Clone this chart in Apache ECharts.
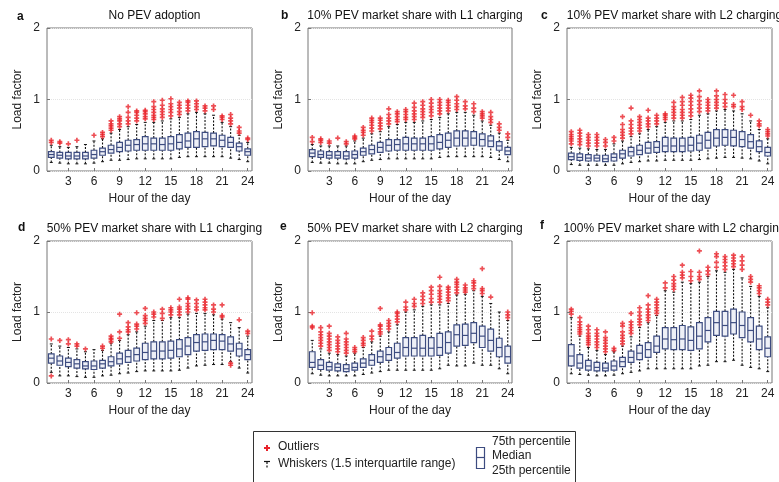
<!DOCTYPE html>
<html>
<head>
<meta charset="utf-8">
<script src="https://cdn.jsdelivr.net/npm/echarts@6/dist/echarts.min.js"></script>
<style>
  html, body { margin: 0; padding: 0; background: #fff; }
  #chart { width: 779px; height: 482px; }
</style>
</head>
<body>
<div id="chart"></div>
<script>
const hours = ['1','2','3','4','5','6','7','8','9','10','11','12','13','14','15','16','17','18','19','20','21','22','23','24'];

// a: No PEV adoption
const aLow  = [0.12,0.11,0.10,0.10,0.10,0.11,0.13,0.15,0.15,0.16,0.17,0.17,0.17,0.17,0.17,0.19,0.20,0.20,0.20,0.20,0.20,0.18,0.16,0.13];
const aQ1   = [0.19,0.18,0.17,0.17,0.17,0.18,0.22,0.25,0.27,0.28,0.29,0.29,0.29,0.29,0.29,0.31,0.33,0.33,0.34,0.35,0.34,0.33,0.28,0.22];
const aMed  = [0.23,0.22,0.21,0.21,0.21,0.23,0.27,0.30,0.33,0.36,0.37,0.38,0.38,0.37,0.38,0.40,0.42,0.45,0.45,0.45,0.43,0.40,0.34,0.27];
const aQ3   = [0.27,0.26,0.26,0.26,0.26,0.29,0.32,0.36,0.40,0.43,0.44,0.48,0.46,0.46,0.48,0.51,0.53,0.55,0.54,0.53,0.50,0.47,0.39,0.31];
const aHigh = [0.36,0.34,0.33,0.34,0.37,0.42,0.45,0.53,0.58,0.62,0.65,0.68,0.68,0.70,0.73,0.75,0.80,0.82,0.80,0.78,0.68,0.62,0.50,0.40];
const aOut  = [[0.40,0.43],[0.39,0.41],[0.38],[0.43],[],[0.50],[0.48,0.51,0.54],[0.57,0.60,0.63,0.66,0.70],[0.62,0.66,0.70,0.73,0.76],[0.66,0.70,0.75,0.82,0.90],[0.70,0.74,0.78,0.82,0.84],[0.73,0.76,0.80,0.83,0.85],[0.72,0.75,0.78,0.82,0.86,0.90,0.97],[0.75,0.79,0.83,0.87,0.92,0.99],[0.77,0.82,0.86,0.90,0.94,1.01],[0.79,0.83,0.88,0.92,0.96],[0.84,0.88,0.92,0.96,0.98],[0.86,0.90,0.94,0.98],[0.84,0.88,0.91],[0.86,0.91],[0.72,0.75,0.77],[0.66,0.70,0.74,0.79],[0.53,0.56,0.61],[0.44,0.46]];

// b: 10% PEV, L1
const bLow  = [0.12,0.11,0.11,0.10,0.10,0.10,0.13,0.15,0.16,0.17,0.17,0.17,0.17,0.17,0.17,0.19,0.20,0.20,0.20,0.20,0.20,0.19,0.16,0.13];
const bQ1   = [0.20,0.19,0.18,0.18,0.17,0.18,0.22,0.24,0.26,0.28,0.29,0.29,0.29,0.29,0.29,0.31,0.33,0.35,0.35,0.36,0.35,0.34,0.29,0.23];
const bMed  = [0.25,0.23,0.22,0.22,0.21,0.23,0.27,0.30,0.33,0.36,0.37,0.38,0.38,0.38,0.38,0.40,0.43,0.46,0.46,0.46,0.44,0.42,0.35,0.28];
const bQ3   = [0.30,0.28,0.27,0.27,0.27,0.28,0.32,0.36,0.40,0.44,0.44,0.47,0.46,0.46,0.48,0.51,0.53,0.56,0.56,0.55,0.52,0.49,0.41,0.33];
const bHigh = [0.37,0.35,0.35,0.35,0.35,0.42,0.46,0.52,0.55,0.62,0.65,0.68,0.68,0.70,0.72,0.75,0.80,0.82,0.82,0.78,0.70,0.64,0.53,0.43];
const bOut  = [[0.41,0.47],[0.40,0.43,0.45],[0.39,0.42],[0.46],[0.38,0.41],[0.45,0.47,0.49],[0.50,0.54,0.57,0.61],[0.56,0.60,0.64,0.68,0.71,0.74],[0.59,0.63,0.67,0.71,0.74],[0.66,0.70,0.74,0.79,0.87],[0.69,0.72,0.76,0.80,0.83],[0.72,0.75,0.79,0.83,0.86],[0.72,0.76,0.80,0.84,0.89,0.95],[0.75,0.79,0.83,0.87,0.92,0.97],[0.77,0.82,0.86,0.90,0.95,1.00],[0.80,0.84,0.88,0.92,0.96,1.00],[0.84,0.88,0.92,0.96,0.99],[0.86,0.90,0.94,0.99,1.04],[0.87,0.91,0.97],[0.83,0.88,0.94],[0.74,0.77,0.80,0.83],[0.68,0.72,0.76,0.82],[0.57,0.61,0.66],[0.47,0.52]];

// c: 10% PEV, L2
const cLow  = [0.09,0.08,0.08,0.08,0.08,0.08,0.10,0.12,0.13,0.14,0.14,0.15,0.15,0.15,0.15,0.16,0.17,0.18,0.19,0.19,0.18,0.17,0.14,0.10];
const cQ1   = [0.16,0.15,0.14,0.14,0.13,0.14,0.18,0.21,0.23,0.25,0.26,0.27,0.27,0.27,0.28,0.29,0.32,0.35,0.36,0.35,0.34,0.32,0.27,0.21];
const cMed  = [0.20,0.19,0.18,0.18,0.17,0.19,0.24,0.27,0.29,0.32,0.33,0.35,0.35,0.35,0.36,0.39,0.43,0.46,0.47,0.47,0.44,0.41,0.34,0.26];
const cQ3   = [0.25,0.24,0.23,0.22,0.22,0.24,0.29,0.33,0.36,0.40,0.41,0.47,0.46,0.46,0.47,0.50,0.54,0.58,0.58,0.57,0.55,0.51,0.42,0.33];
const cHigh = [0.33,0.32,0.31,0.30,0.30,0.38,0.42,0.48,0.52,0.58,0.62,0.68,0.70,0.70,0.72,0.78,0.80,0.84,0.86,0.84,0.80,0.70,0.58,0.45];
const cOut  = [[0.38,0.42,0.45,0.48,0.51,0.55],[0.37,0.41,0.45,0.49,0.53,0.57],[0.35,0.39,0.43,0.47,0.51],[0.35,0.39,0.43,0.47,0.51],[0.35,0.40,0.44],[0.42,0.47],[0.46,0.50,0.54,0.58,0.65,0.76],[0.52,0.56,0.60,0.65,0.70,0.88],[0.56,0.60,0.64,0.68,0.72,0.76],[0.62,0.66,0.70,0.74,0.85],[0.66,0.70,0.74,0.78],[0.72,0.75,0.78,0.80],[0.74,0.78,0.82,0.86,0.90,0.96],[0.74,0.78,0.82,0.86,0.92,0.97,1.03],[0.77,0.82,0.87,0.92,0.97,1.02,1.06],[0.83,0.88,0.93,0.98,1.04,1.12],[0.84,0.88,0.92,0.96,1.00],[0.88,0.92,0.96,1.00,1.05,1.12],[0.90,0.95,1.00,1.07],[0.90,0.93,1.06],[0.86,0.90,0.97],[0.78],[0.63,0.66,0.70],[0.49,0.52,0.55,0.58]];

// d: 50% PEV, L1
const dLow  = [0.15,0.10,0.10,0.09,0.08,0.08,0.10,0.11,0.13,0.14,0.16,0.17,0.17,0.17,0.17,0.18,0.21,0.24,0.25,0.26,0.26,0.30,0.21,0.14];
const dQ1   = [0.28,0.25,0.23,0.21,0.20,0.19,0.21,0.24,0.27,0.29,0.31,0.33,0.34,0.34,0.35,0.37,0.40,0.45,0.46,0.47,0.47,0.45,0.38,0.33];
const dMed  = [0.35,0.31,0.29,0.27,0.24,0.24,0.27,0.30,0.34,0.37,0.40,0.43,0.45,0.45,0.46,0.48,0.52,0.57,0.58,0.60,0.59,0.55,0.48,0.40];
const dQ3   = [0.41,0.38,0.35,0.33,0.30,0.31,0.32,0.37,0.42,0.46,0.49,0.56,0.58,0.58,0.59,0.61,0.64,0.68,0.69,0.69,0.68,0.65,0.56,0.47];
const dHigh = [0.55,0.52,0.50,0.48,0.44,0.47,0.46,0.56,0.60,0.68,0.72,0.80,0.88,0.88,0.92,0.92,0.97,0.98,0.98,0.96,0.90,0.85,0.78,0.66];
const dOut  = [[0.10,0.62],[0.60],[0.55,0.61],[0.52,0.55],[0.48],[],[0.49,0.52],[0.58,0.61,0.63,0.66],[0.63,0.72,0.97],[0.72,0.75,0.79,0.85],[0.76,0.80,0.83,0.99],[0.84,0.88,0.91,0.95,1.05],[0.93,0.97,1.00],[0.91,0.98,1.04],[0.96,1.00,1.03,1.06],[0.96,1.00,1.04,1.07,1.18],[1.00,1.04,1.08,1.12,1.18,1.20],[1.03,1.07,1.12,1.17],[1.03,1.06,1.10,1.14,1.18],[1.00,1.04,1.10],[0.93,0.95,1.10],[0.25,0.28],[0.89],[0.70,0.73]];

// e: 50% PEV, L2
const eLow  = [0.13,0.11,0.10,0.10,0.10,0.10,0.12,0.14,0.16,0.18,0.18,0.18,0.18,0.18,0.18,0.20,0.25,0.24,0.24,0.28,0.25,0.25,0.20,0.13];
const eQ1   = [0.22,0.19,0.18,0.17,0.16,0.18,0.22,0.25,0.29,0.32,0.35,0.38,0.38,0.38,0.38,0.39,0.42,0.52,0.53,0.57,0.50,0.45,0.37,0.28];
const eMed  = [0.29,0.25,0.23,0.22,0.20,0.22,0.28,0.32,0.37,0.40,0.43,0.50,0.49,0.49,0.49,0.50,0.57,0.68,0.67,0.70,0.66,0.60,0.50,0.37];
const eQ3   = [0.44,0.33,0.29,0.27,0.26,0.28,0.34,0.40,0.45,0.50,0.56,0.64,0.64,0.67,0.64,0.70,0.72,0.82,0.83,0.85,0.80,0.76,0.63,0.52];
const eHigh = [0.60,0.48,0.42,0.40,0.38,0.42,0.50,0.58,0.66,0.72,0.82,1.00,1.03,1.08,1.10,1.10,1.12,1.24,1.25,1.30,1.22,1.12,1.00,0.88];
const eOut  = [[0.78,0.80,0.99],[0.52,0.56,0.60,0.64,0.68,0.72,0.78],[0.46,0.50,0.54,0.58,0.62,0.66,0.70,0.80],[0.44,0.48,0.52,0.56,0.60,0.65],[0.42,0.46,0.50,0.54,0.58,0.62,0.70],[0.44,0.47,0.50],[0.53,0.56,0.60,0.64],[0.62,0.66,0.73],[0.69,0.72,0.76,0.80,0.82,1.05],[0.76,0.80,0.84,0.88],[0.86,0.90,0.94,0.98,1.00],[1.03,1.07,1.14],[1.08,1.12,1.18],[1.12,1.17,1.22,1.27],[1.14,1.19,1.25,1.30,1.35],[1.14,1.18,1.22,1.26,1.30,1.36,1.49],[1.16,1.20,1.24,1.28,1.32,1.35],[1.27,1.31,1.35,1.39,1.42,1.46],[1.28,1.31,1.34,1.38],[1.33,1.37,1.41,1.44],[1.26,1.30,1.33,1.61],[1.21],[],[0.92,0.96,1.00]];

// f: 100% PEV, L2
const fLow  = [0.13,0.12,0.11,0.10,0.10,0.11,0.13,0.15,0.17,0.20,0.20,0.20,0.20,0.20,0.20,0.24,0.25,0.30,0.30,0.32,0.25,0.22,0.20,0.16];
const fQ1   = [0.24,0.21,0.18,0.17,0.17,0.18,0.23,0.29,0.33,0.36,0.43,0.48,0.47,0.47,0.46,0.48,0.58,0.67,0.66,0.69,0.64,0.58,0.47,0.37];
const fMed  = [0.38,0.28,0.24,0.22,0.21,0.24,0.30,0.36,0.42,0.47,0.52,0.62,0.61,0.62,0.60,0.66,0.74,0.85,0.81,0.85,0.81,0.74,0.62,0.49];
const fQ3   = [0.54,0.40,0.32,0.29,0.28,0.31,0.36,0.45,0.53,0.57,0.66,0.78,0.78,0.81,0.79,0.85,0.92,1.01,1.01,1.04,1.00,0.92,0.80,0.65];
const fHigh = [0.92,0.66,0.50,0.46,0.40,0.44,0.52,0.65,0.78,0.85,0.95,1.30,1.28,1.42,1.40,1.42,1.50,1.58,1.56,1.60,1.48,1.36,1.22,1.06];
const fOut  = [[0.97,1.01,1.04],[0.69,0.72,0.75,0.78,0.82,0.86,0.92],[0.54,0.57,0.60,0.63,0.66,0.70,0.75,0.80],[0.50,0.54,0.58,0.62,0.66,0.70,0.75],[0.44,0.48,0.52,0.56,0.60,0.64,0.72],[0.46,0.49],[0.55,0.59,0.63,0.67,0.72,0.80,0.84],[0.70,0.74,0.78,0.82,0.86,0.98],[0.82,0.86,0.90,0.95,1.00,1.06],[0.88,0.92,0.96,1.00,1.04,1.10,1.23],[0.98,1.02,1.06,1.10,1.14,1.18],[1.34,1.41],[1.32,1.36,1.40,1.45,1.50],[1.48,1.52,1.56,1.66],[1.44,1.50,1.57],[1.46,1.50,1.56,1.86],[1.53,1.58,1.63],[1.63,1.70,1.78,1.82],[1.60,1.65,1.70,1.74,1.78],[1.64,1.68,1.72,1.76,1.80],[1.60,1.66,1.72,1.78],[1.42,1.46,1.50],[1.26,1.30,1.34,1.37],[1.10,1.14,1.18]];

const panels = [
  { letter: 'a', title: 'No PEV adoption', low: aLow, q1: aQ1, med: aMed, q3: aQ3, high: aHigh, out: aOut },
  { letter: 'b', title: '10% PEV market share with L1 charging', low: bLow, q1: bQ1, med: bMed, q3: bQ3, high: bHigh, out: bOut },
  { letter: 'c', title: '10% PEV market share with L2 charging', low: cLow, q1: cQ1, med: cMed, q3: cQ3, high: cHigh, out: cOut },
  { letter: 'd', title: '50% PEV market share with L1 charging', low: dLow, q1: dQ1, med: dMed, q3: dQ3, high: dHigh, out: dOut },
  { letter: 'e', title: '50% PEV market share with L2 charging', low: eLow, q1: eQ1, med: eMed, q3: eQ3, high: eHigh, out: eOut },
  { letter: 'f', title: '100% PEV market share with L2 charging', low: fLow, q1: fQ1, med: fMed, q3: fQ3, high: fHigh, out: fOut }
];

const FONT = 'Liberation Sans, Arial, Helvetica, sans-serif';
const BOX = '#3d4c80';
const RED = '#e8232b';
// thick plus sign for outliers
const plusPath = 'path://M2,0H4V2H6V4H4V6H2V4H0V2H2Z';

const gridPos = [
  { left: 47, top: 28, width: 205, height: 143 },
  { left: 308, top: 28, width: 204, height: 143 },
  { left: 567, top: 28, width: 205, height: 143 },
  { left: 47, top: 241, width: 205, height: 142 },
  { left: 308, top: 241, width: 204, height: 142 },
  { left: 567, top: 241, width: 205, height: 142 }
];
const letterPos = [[12, 6], [276, 5], [536, 5], [13, 217], [275, 216], [535, 215]];

function renderBox(params, api) {
  const i = api.value(0);
  const x = api.coord([i, 0])[0];
  const w = api.size([1, 0])[0] * 0.66;
  const yLow = api.coord([i, api.value(1)])[1];
  const yQ1 = api.coord([i, api.value(2)])[1];
  const yMed = api.coord([i, api.value(3)])[1];
  const yQ3 = api.coord([i, api.value(4)])[1];
  const yHigh = api.coord([i, api.value(5)])[1];
  const dash = { stroke: '#111', lineWidth: 1.1, lineDash: [2, 1.5] };
  const cap = { stroke: '#111', lineWidth: 1 };
  return {
    type: 'group',
    children: [
      { type: 'line', shape: { x1: x, y1: yQ3, x2: x, y2: yHigh }, style: dash },
      { type: 'line', shape: { x1: x, y1: yLow, x2: x, y2: yQ1 }, style: dash },
      { type: 'line', shape: { x1: x - 1.5, y1: yHigh, x2: x + 1.5, y2: yHigh }, style: cap },
      { type: 'line', shape: { x1: x - 1.5, y1: yLow, x2: x + 1.5, y2: yLow }, style: cap },
      { type: 'rect', shape: { x: x - w / 2, y: yQ3, width: w, height: yQ1 - yQ3 },
        style: { fill: '#eef0f7', stroke: BOX, lineWidth: 1.2 } },
      { type: 'line', shape: { x1: x - w / 2, y1: yMed, x2: x + w / 2, y2: yMed },
        style: { stroke: BOX, lineWidth: 1.2 } }
    ]
  };
}

const grid = [], xAxis = [], yAxis = [], series = [], title = [];
panels.forEach((p, k) => {
  const g = gridPos[k];
  grid.push(Object.assign({ show: true, borderColor: '#777', borderWidth: 1, backgroundColor: 'transparent' }, g));
  xAxis.push({
    type: 'category', gridIndex: k, data: hours,
    name: 'Hour of the day', nameLocation: 'middle', nameGap: 22,
    nameTextStyle: { fontSize: 12, color: '#222', fontFamily: FONT },
    axisLine: { show: false },
    axisTick: { show: true, inside: true, length: 3, alignWithLabel: true,
      interval: (i) => (i + 1) % 3 === 0, lineStyle: { color: '#777' } },
    axisLabel: { interval: (i) => (i + 1) % 3 === 0, fontSize: 12, color: '#222', margin: 5, fontFamily: FONT },
    splitLine: { show: false }
  });
  yAxis.push({
    type: 'value', gridIndex: k, min: 0, max: 2, interval: 1,
    name: 'Load factor', nameLocation: 'middle', nameGap: 23,
    nameTextStyle: { fontSize: 12, color: '#222', fontFamily: FONT },
    axisLine: { show: false },
    axisTick: { show: true, inside: true, length: 3, lineStyle: { color: '#777' } },
    axisLabel: { fontSize: 12, color: '#222', margin: 7, fontFamily: FONT },
    splitLine: { show: true, lineStyle: { color: '#e4e4e4', type: 'dotted' } }
  });
  series.push({
    type: 'custom', xAxisIndex: k, yAxisIndex: k,
    renderItem: renderBox,
    encode: { x: 0, y: [1, 2, 3, 4, 5] },
    data: hours.map((h, i) => [i, p.low[i], p.q1[i], p.med[i], p.q3[i], p.high[i]]),
    z: 2
  });
  const pts = [];
  p.out.forEach((vals, i) => vals.forEach(v => pts.push([i, v])));
  series.push({
    type: 'scatter', xAxisIndex: k, yAxisIndex: k,
    symbol: plusPath, symbolSize: 5,
    itemStyle: { color: RED },
    data: pts, z: 3
  });
  title.push({
    text: p.title, left: g.left + g.width / 2, top: k < 3 ? 5 : 218, textAlign: 'center',
    textStyle: { fontSize: 12, fontWeight: 'normal', color: '#111', fontFamily: FONT }
  });
  title.push({
    text: p.letter, left: letterPos[k][0], top: letterPos[k][1],
    textStyle: { fontSize: 12, fontWeight: 'bold', color: '#111', fontFamily: FONT }
  });
});

const legendText = { fontSize: 12, fill: '#222', fontFamily: FONT };
const graphic = [
  { type: 'rect', shape: { x: 253.5, y: 431.5, width: 322, height: 60 }, style: { fill: 'none', stroke: '#333', lineWidth: 1 } },
  { type: 'polygon', shape: { points: [[266,445],[268,445],[268,447],[270,447],[270,449],[268,449],[268,451],[266,451],[266,449],[264,449],[264,447],[266,447]] }, style: { fill: RED } },
  { type: 'text', left: 278, top: 441, style: Object.assign({ text: 'Outliers' }, legendText) },
  { type: 'line', shape: { x1: 264, y1: 461.5, x2: 270, y2: 461.5 }, style: { stroke: '#111', lineWidth: 1.2 } },
  { type: 'line', shape: { x1: 267, y1: 462, x2: 267, y2: 469 }, style: { stroke: '#111', lineWidth: 1.2, lineDash: [2, 1.5] } },
  { type: 'text', left: 278, top: 458, style: Object.assign({ text: 'Whiskers (1.5 interquartile range)' }, legendText) },
  { type: 'rect', shape: { x: 476.5, y: 447.5, width: 8, height: 21 }, style: { fill: 'none', stroke: BOX, lineWidth: 1.2 } },
  { type: 'line', shape: { x1: 476.5, y1: 457.5, x2: 484.5, y2: 457.5 }, style: { stroke: BOX, lineWidth: 1.2 } },
  { type: 'text', left: 492, top: 436, style: Object.assign({ text: '75th percentile' }, legendText) },
  { type: 'text', left: 492, top: 450, style: Object.assign({ text: 'Median' }, legendText) },
  { type: 'text', left: 492, top: 465, style: Object.assign({ text: '25th percentile' }, legendText) }
];

const chart = echarts.init(document.getElementById('chart'), null, { renderer: 'canvas' });
chart.setOption({
  animation: false,
  backgroundColor: '#fff',
  textStyle: { fontFamily: FONT },
  title, grid, xAxis, yAxis, series, graphic
});
</script>
</body>
</html>
